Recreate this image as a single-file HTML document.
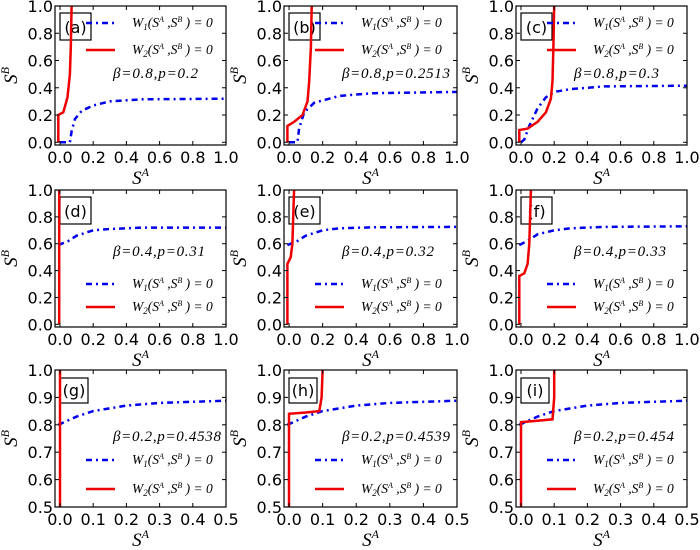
<!DOCTYPE html>
<html><head><meta charset="utf-8">
<style>
html,body{margin:0;padding:0;background:#fff;}
svg{display:block;}
.tick{font-family:"DejaVu Sans","Liberation Sans",sans-serif;font-size:16px;fill:#000;}
.math{font-family:"Liberation Serif","DejaVu Serif",serif;font-style:italic;fill:#000;}
</style></head>
<body>
<svg id="fig" width="700" height="550" viewBox="0 0 700 550" xmlns="http://www.w3.org/2000/svg"></svg>
<script>
// Panel data (S^A, S^B) pairs
const panelLabels = ["a","b","c","d","e","f","g","h","i"];
const paramLabels = ["β=0.8,p=0.2","β=0.8,p=0.2513","β=0.8,p=0.3","β=0.4,p=0.31","β=0.4,p=0.32","β=0.4,p=0.33","β=0.2,p=0.4538","β=0.2,p=0.4539","β=0.2,p=0.454"];
const w1a = [[0,0],[0.02,0],[0.06,0],[0.07,0.08],[0.09,0.17],[0.13,0.23],[0.2,0.27],[0.3,0.3],[0.5,0.315],[1,0.32]];
const w2a = [[-0.01,0],[-0.01,0.2],[0.02,0.22],[0.045,0.33],[0.06,0.5],[0.065,0.7],[0.07,1]];
const w1b = [[0,0],[0.05,0],[0.06,0.1],[0.09,0.22],[0.15,0.29],[0.3,0.34],[0.5,0.36],[1,0.37]];
const w2b = [[-0.01,0],[-0.01,0.12],[0.03,0.15],[0.08,0.2],[0.11,0.3],[0.12,0.45],[0.13,0.7],[0.135,1]];
const w1c = [[0,0],[0.02,0.02],[0.05,0.12],[0.1,0.25],[0.15,0.33],[0.2,0.37],[0.3,0.39],[0.5,0.41],[1,0.415]];
const w2c = [[-0.01,0],[-0.01,0.09],[0.04,0.1],[0.1,0.15],[0.15,0.22],[0.18,0.32],[0.19,0.45],[0.195,0.7],[0.2,1]];
const w1d = [[-0.01,0.59],[0.05,0.62],[0.1,0.66],[0.2,0.7],[0.3,0.71],[0.5,0.72],[1,0.72]];
const w2d = [[-0.005,0],[-0.005,1]];
const w1e = [[-0.01,0.59],[0.05,0.62],[0.1,0.66],[0.2,0.7],[0.3,0.715],[0.5,0.722],[1,0.725]];
const w2e = [[-0.01,0],[-0.01,0.45],[0.01,0.5],[0.02,0.6],[0.025,0.8],[0.03,1]];
const w1f = [[-0.01,0.59],[0.05,0.63],[0.1,0.67],[0.2,0.7],[0.3,0.715],[0.5,0.725],[1,0.73]];
const w2f = [[-0.01,0],[-0.01,0.36],[0.02,0.38],[0.04,0.45],[0.05,0.6],[0.055,0.8],[0.06,1]];
const w1g = [[-0.005,0.8],[0.05,0.83],[0.1,0.85],[0.2,0.87],[0.3,0.88],[0.5,0.888]];
const w2g = [[0,0.5],[0,1]];
const w1h = [[-0.005,0.8],[0.05,0.83],[0.1,0.85],[0.2,0.87],[0.3,0.88],[0.5,0.888]];
const w2h = [[0,0.5],[0,0.84],[0.05,0.845],[0.09,0.85],[0.097,0.9],[0.1,1]];
const w1i = [[-0.005,0.8],[0.05,0.83],[0.1,0.85],[0.2,0.87],[0.3,0.88],[0.5,0.888]];
const w2i = [[0,0.5],[0,0.81],[0.05,0.815],[0.095,0.82],[0.1,0.9],[0.1,1]];
const tickFull = [0,0.2,0.4,0.6,0.8,1.0];
const tickHalfX = [0,0.1,0.2,0.3,0.4,0.5];
const tickHalfY = [0.5,0.6,0.7,0.8,0.9,1.0];

const W1 = [w1a,w1b,w1c,w1d,w1e,w1f,w1g,w1h,w1i];
const W2 = [w2a,w2b,w2c,w2d,w2e,w2f,w2g,w2h,w2i];
const NS = "http://www.w3.org/2000/svg";
const fig = document.getElementById("fig");
function mk(tag, attrs, parent){const e=document.createElementNS(NS,tag);for(const k in attrs)e.setAttribute(k,attrs[k]);(parent||fig).appendChild(e);return e;}

const colL=[55,284,516], colR=[226,457,687];
const rowT=[6,190,370], rowB=[145,327,507];

for(let i=0;i<9;i++){
  const r=Math.floor(i/3), c=i%3;
  const L=colL[c], R=colR[c], T=rowT[r], B=rowB[r];
  const xmin = r<2?-0.03:-0.015, xmax = r<2?1:0.5;
  const ymin = r<2?-0.02:0.5, ymax=1;
  const sx=v=>L+(v-xmin)/(xmax-xmin)*(R-L);
  const sy=v=>B-(v-ymin)/(ymax-ymin)*(B-T);
  const g=mk("g",{});
  
  
  const clipId="clip"+i;
  const cp=mk("clipPath",{id:clipId},g); mk("rect",{x:L,y:T,width:R-L,height:B-T},cp);
  const bx=L+5, by=T+(r==2?8:7);
  const box=mk("rect",{x:bx,y:by,width:r==2?28:31,height:r==2?25:27,fill:"#fff",stroke:"#000","stroke-width":1.2},g);
  
  
  const lt=mk("text",{x:bx+(r==2?14:15.5),y:by+(r==2?18:20),"text-anchor":"middle",class:"tick","font-size":"16"},g);
  lt.textContent="("+panelLabels[i]+")";
  
  
  const toPath=pts=>pts.map((p,k)=>(k?"L":"M")+sx(p[0]).toFixed(1)+","+sy(p[1]).toFixed(1)).join("");
  const p1=mk("path",{d:toPath(W1[i]),fill:"none",stroke:"#0000ee","stroke-width":2.5,"stroke-dasharray":"6,4,2,4","clip-path":"url(#"+clipId+")"},g);
  
  
  const p2=mk("path",{d:toPath(W2[i]),fill:"none",stroke:"#ee0000","stroke-width":2.5,"clip-path":"url(#"+clipId+")"},g);
  
  
  const xt = r<2?tickFull:tickHalfX, yt = r<2?tickFull:tickHalfY;
  xt.forEach(v=>{
    const x=sx(v);
    mk("line",{x1:x,y1:B,x2:x,y2:B-4,stroke:"#000"},g);
    mk("line",{x1:x,y1:T,x2:x,y2:T+4,stroke:"#000"},g);
    const t=mk("text",{x:x,y:B+18,"text-anchor":"middle",class:"tick"},g);
    t.textContent=v.toFixed(1);
    
    
  });
  yt.forEach(v=>{
    const y=sy(v);
    mk("line",{x1:L,y1:y,x2:L+4,y2:y,stroke:"#000"},g);
    mk("line",{x1:R,y1:y,x2:R-4,y2:y,stroke:"#000"},g);
    const t=mk("text",{x:L-2,y:y+6,"text-anchor":"end",class:"tick"},g);
    t.textContent=v.toFixed(1);
    
    
  });
  const fr=mk("rect",{x:L,y:T,width:R-L,height:B-T,fill:"none",stroke:"#000","stroke-width":1.2},g);
  
  
  const xl=mk("text",{x:(L+R)/2,y:B+39,"text-anchor":"middle",class:"math","font-size":"19"},g);
  xl.innerHTML='S<tspan dy="-8" font-size="12">A</tspan>';
  
  
  const yx=L-38, yy=(T+B)/2;
  const yl=mk("text",{x:yx,y:yy,"text-anchor":"middle",class:"math","font-size":"19",transform:"rotate(-90 "+yx+" "+yy+")"},g);
  yl.innerHTML='S<tspan dy="-8" font-size="12">B</tspan>';
  
  
  let l1y,l2y,py;
  if(r==0){l1y=T+17;l2y=T+44;py=T+72;}
  else if(r==1){l1y=T+94;l2y=T+117;py=T+66;}
  else {l1y=T+90;l2y=T+119;py=T+71;}
  const pt=mk("text",{x:L+58,y:py,class:"math","font-size":"15",textLength:(paramLabels[i].length*7.7).toFixed(0),lengthAdjust:"spacing"},g);
  pt.textContent=paramLabels[i];
  
  
  [[l1y,"1","#0000ee","6,4,2,4"],[l2y,"2","#ee0000",""]].forEach(e=>{
    const ln=mk("line",{x1:L+31,y1:e[0],x2:L+60,y2:e[0],stroke:e[2],"stroke-width":2.5},g);
    if(e[3]) ln.setAttribute("stroke-dasharray",e[3]);
    
    
    const tx=mk("text",{x:L+77,y:e[0]+4,class:"math","font-size":"13.5"},g);
    tx.innerHTML='W<tspan dy="3" font-size="9">'+e[1]+'</tspan><tspan dy="-3">(S</tspan><tspan dy="-5" font-size="8">A</tspan><tspan dy="5">  ,S</tspan><tspan dy="-5" font-size="8">B</tspan><tspan dy="5"> ) = 0</tspan>';
    tx.setAttribute('xml:space','preserve');
    
    
  });
}
</script>
</body></html>
